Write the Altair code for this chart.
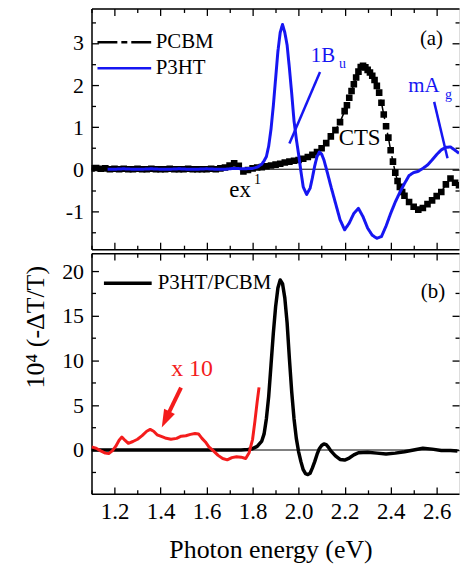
import altair as alt
import pandas as pd

FONT = "Liberation Serif"
BLUE = "#1616f2"
RED = "#f41c1c"

# ---------------- panel (a): pristine PCBM and P3HT films ----------------
pcbm_energy = [1.10, 1.12, 1.14, 1.16, 1.18, 1.20, 1.22, 1.24, 1.26, 1.28,
               1.30, 1.32, 1.34, 1.36, 1.38, 1.40, 1.42, 1.44, 1.46, 1.48,
               1.50, 1.52, 1.54, 1.56, 1.58, 1.60, 1.62, 1.64, 1.66, 1.68,
               1.70, 1.72, 1.74, 1.76, 1.78, 1.80, 1.82, 1.84, 1.86, 1.88,
               1.90, 1.92, 1.94, 1.96, 1.98, 2.00, 2.02, 2.04, 2.06, 2.08,
               2.10, 2.12, 2.14, 2.16, 2.18, 2.20, 2.21, 2.22, 2.23, 2.24,
               2.25, 2.26, 2.27, 2.28, 2.29, 2.30, 2.31, 2.32, 2.33, 2.34,
               2.35, 2.36, 2.37, 2.38, 2.39, 2.40, 2.41, 2.42, 2.43, 2.44,
               2.45, 2.46, 2.48, 2.50, 2.52, 2.54, 2.56, 2.58, 2.60, 2.62,
               2.64, 2.66, 2.68, 2.697]
pcbm_signal = [0.02, 0.03, 0.01, 0.02, 0.00, 0.01, 0.00, 0.01, 0.00, 0.00,
               0.01, 0.00, 0.00, 0.01, 0.00, 0.00, 0.00, 0.01, 0.00, 0.00,
               0.00, 0.01, 0.00, 0.00, 0.00, 0.00, 0.01, 0.00, 0.02, 0.04,
               0.09, 0.14, 0.08, -0.05, -0.02, 0.02, 0.04, 0.05, 0.07, 0.09,
               0.11, 0.13, 0.16, 0.18, 0.20, 0.22, 0.25, 0.29, 0.34, 0.41,
               0.50, 0.62, 0.78, 0.93, 1.12, 1.38, 1.52, 1.70, 1.86, 2.02,
               2.18, 2.32, 2.43, 2.46, 2.42, 2.36, 2.30, 2.22, 2.12, 1.98,
               1.82, 1.58, 1.30, 1.02, 0.75, 0.45, 0.18, -0.08, -0.28, -0.42,
               -0.54, -0.63, -0.78, -0.89, -0.96, -0.92, -0.83, -0.74, -0.64, -0.54,
               -0.36, -0.22, -0.32, -0.38]

p3ht_energy = [1.17, 1.20, 1.24, 1.28, 1.32, 1.36, 1.40, 1.44, 1.48, 1.52,
               1.56, 1.60, 1.64, 1.68, 1.72, 1.76, 1.80, 1.82, 1.84, 1.85,
               1.86, 1.87, 1.88, 1.89, 1.90, 1.91, 1.92, 1.93, 1.94, 1.95,
               1.96, 1.97, 1.98, 1.99, 2.00, 2.01, 2.02, 2.035, 2.05, 2.06,
               2.07, 2.08, 2.09, 2.10, 2.11, 2.12, 2.14, 2.16, 2.18, 2.20,
               2.22, 2.24, 2.26, 2.28, 2.30, 2.32, 2.34, 2.36, 2.38, 2.40,
               2.42, 2.44, 2.46, 2.48, 2.50, 2.52, 2.54, 2.56, 2.58, 2.60,
               2.62, 2.64, 2.66, 2.68, 2.697]
p3ht_signal = [0.00, 0.00, 0.01, 0.00, 0.00, 0.01, 0.00, 0.00, 0.01, 0.00,
               0.00, 0.01, 0.00, 0.00, 0.02, 0.01, 0.02, 0.05, 0.12, 0.20,
               0.30, 0.55, 0.95, 1.50, 2.15, 2.80, 3.25, 3.44, 3.25, 2.95,
               2.40, 1.80, 1.15, 0.72, 0.35, -0.05, -0.42, -0.60, -0.45, -0.20,
               0.08, 0.30, 0.41, 0.36, 0.22, 0.02, -0.40, -0.80, -1.20, -1.44,
               -1.28, -1.05, -0.93, -1.13, -1.40, -1.57, -1.64, -1.60, -1.35, -1.05,
               -0.78, -0.55, -0.34, -0.15, -0.08, -0.05, 0.02, 0.10, 0.22, 0.35,
               0.46, 0.52, 0.53, 0.45, 0.38]

# ---------------- panel (b): P3HT/PCBM blend ----------------
blend_energy = [1.10, 1.15, 1.20, 1.25, 1.30, 1.35, 1.40, 1.45, 1.50, 1.55,
                1.60, 1.65, 1.70, 1.75, 1.78, 1.80, 1.82, 1.84, 1.85, 1.86,
                1.87, 1.88, 1.89, 1.90, 1.91, 1.92, 1.93, 1.94, 1.95, 1.96,
                1.97, 1.98, 1.99, 2.00, 2.01, 2.02, 2.03, 2.04, 2.05, 2.06,
                2.07, 2.08, 2.09, 2.10, 2.11, 2.12, 2.13, 2.14, 2.16, 2.18,
                2.20, 2.22, 2.24, 2.26, 2.30, 2.34, 2.38, 2.42, 2.46, 2.50,
                2.54, 2.58, 2.62, 2.66, 2.69]
blend_signal = [0.0, 0.0, 0.0, 0.0, 0.0, 0.0, 0.0, 0.0, 0.0, 0.0,
                0.0, 0.0, 0.0, 0.0, 0.05, 0.15, 0.4, 1.0, 1.8, 3.5,
                6.0, 9.5, 13.0, 16.0, 18.1, 19.0, 18.6, 17.0, 14.2, 10.2,
                6.5, 3.5, 1.3, -0.2, -1.3, -2.2, -2.65, -2.75, -2.6, -2.0,
                -1.3, -0.5, 0.15, 0.5, 0.68, 0.6, 0.3, -0.1, -0.65, -1.05,
                -1.12, -0.9, -0.55, -0.3, -0.25, -0.35, -0.45, -0.35, -0.2, 0.0,
                0.2, 0.1, -0.05, -0.05, -0.1]

# low-energy part of the blend spectrum, magnified ten times
tail_energy = [1.10, 1.12, 1.14, 1.16, 1.175, 1.19, 1.205, 1.22, 1.232, 1.245,
               1.26, 1.28, 1.30, 1.32, 1.34, 1.355, 1.37, 1.385, 1.40, 1.42,
               1.445, 1.47, 1.49, 1.51, 1.53, 1.55, 1.565, 1.58, 1.595, 1.61,
               1.63, 1.65, 1.67, 1.69, 1.71, 1.73, 1.75, 1.77, 1.785, 1.80,
               1.81, 1.82, 1.828]
tail_signal = [0.35, 0.2, -0.1, -0.35, -0.4, -0.1, 0.4, 1.1, 1.45, 1.1,
               0.75, 0.95, 1.2, 1.6, 2.1, 2.3, 2.1, 1.7, 1.55, 1.35,
               1.2, 1.3, 1.55, 1.6, 1.75, 1.85, 1.8, 1.3, 0.9, 0.35,
               -0.1, -0.6, -0.95, -1.1, -0.85, -0.75, -0.8, -0.95, -0.3, 1.2,
               3.2, 5.4, 7.0]

# ---------------- ticks ----------------
x_ticks = [1.1, 1.2, 1.3, 1.4, 1.5, 1.6, 1.7, 1.8, 1.9, 2.0, 2.1, 2.2, 2.3, 2.4, 2.5, 2.6]
x_labels = [1.2, 1.4, 1.6, 1.8, 2.0, 2.2, 2.4, 2.6]
a_ticks = [-1.5, -1.0, -0.5, 0.0, 0.5, 1.0, 1.5, 2.0, 2.5, 3.0, 3.5]
a_labels = [-1, 0, 1, 2, 3]
b_ticks = [-2.5, 0.0, 2.5, 5.0, 7.5, 10.0, 12.5, 15.0, 17.5, 20.0]
b_labels = [0, 5, 10, 15, 20]

W = 369.5
H = 242

xscale = alt.Scale(domain=[1.1, 2.697], nice=False, zero=False)
ascale = alt.Scale(domain=[-1.9, 3.82], nice=False, zero=False)
bscale = alt.Scale(domain=[-4.9, 22.0], nice=False, zero=False)

X_MAJOR = "round(datum.value * 10) % 2 == 0"
A_MAJOR = "abs(datum.value - round(datum.value)) < 0.01"
B_MAJOR = "abs(datum.value / 5 - round(datum.value / 5)) < 0.01"

anchor = pd.DataFrame({"E": [1.5], "v": [0.0]})


def tick_axis(orient, offset, values, major, domain=True):
    return alt.Axis(orient=orient, offset=offset, values=values, labels=False,
                    title=None, grid=False, domain=domain, domainColor="black",
                    domainWidth=1.5, ticks=True, tickColor="black", tickWidth=1.3,
                    tickSize={"condition": {"test": major, "value": 7}, "value": 4})


def frame(yscale, y_ticks, y_major, y_labels, with_x_labels, y_title=None):
    # inward ticks on all four edges, drawn by mirrored axes
    lower_left = alt.Chart(anchor).mark_point(opacity=0).encode(
        x=alt.X("E:Q", scale=xscale, axis=tick_axis("top", -H, x_ticks, X_MAJOR)),
        y=alt.Y("v:Q", scale=yscale, axis=tick_axis("right", -W, y_ticks, y_major)),
    )
    upper_right = alt.Chart(anchor).mark_point(opacity=0).encode(
        x=alt.X("E:Q", scale=xscale, axis=tick_axis("bottom", -H, x_ticks, X_MAJOR)),
        y=alt.Y("v:Q", scale=yscale,
                axis=tick_axis("left", -W, y_ticks, y_major, domain=False)),
    )
    y_axis_kw = dict(orient="left", values=y_labels, labels=True, ticks=False,
                     tickSize=0, domain=False, grid=False, labelFont=FONT,
                     labelFontSize=22, labelColor="black", labelPadding=8,
                     labelExpr="toString(datum.value)", title=None)
    if y_title:
        y_axis_kw.update(title=y_title, titleFont=FONT, titleFontSize=26,
                         titleFontWeight="normal", titleColor="black",
                         titleAngle=270, titleX=-56.5, titleY=74,
                         titleAlign="center", titleBaseline="middle")
    if with_x_labels:
        x_axis = alt.Axis(orient="bottom", values=x_labels, labels=True, ticks=False,
                          tickSize=0, domain=False, grid=False, labelFont=FONT,
                          labelFontSize=23, labelColor="black", labelPadding=7,
                          labelExpr="format(datum.value, '.1f')",
                          title="Photon energy (eV)", titleFont=FONT,
                          titleFontSize=26, titleFontWeight="normal",
                          titleColor="black", titleX=180, titleY=64,
                          titleAlign="center", titleBaseline="alphabetic")
    else:
        x_axis = None
    labels = alt.Chart(anchor).mark_point(opacity=0).encode(
        x=alt.X("E:Q", scale=xscale, axis=x_axis),
        y=alt.Y("v:Q", scale=yscale, axis=alt.Axis(**y_axis_kw)),
    )
    zero = alt.Chart(anchor).mark_rule(color="black", strokeWidth=1).encode(
        y=alt.Y("v:Q", scale=yscale, axis=None)
    )
    return [zero, lower_left, upper_right, labels]


def text_layer(df, yscale):
    return alt.Chart(df).mark_text(align="left", baseline="alphabetic", font=FONT).encode(
        x=alt.X("E:Q", scale=xscale, axis=None),
        y=alt.Y("v:Q", scale=yscale, axis=None),
        text="label:N",
        color=alt.Color("color:N", scale=None),
        size=alt.Size("size:Q", scale=None),
    )


def pointer_layer(df, yscale):
    return alt.Chart(df).mark_rule(strokeCap="butt").encode(
        x=alt.X("E:Q", scale=xscale, axis=None),
        y=alt.Y("v:Q", scale=yscale, axis=None),
        x2="E2:Q",
        y2="v2:Q",
        color=alt.Color("color:N", scale=None),
        strokeWidth=alt.StrokeWidth("w:Q", scale=None),
    )


# ---------- panel (a) ----------
films = ["PCBM", "P3HT"]
df_a = pd.concat([
    pd.DataFrame({"E": pcbm_energy, "v": pcbm_signal, "film": "PCBM"}),
    pd.DataFrame({"E": p3ht_energy, "v": p3ht_signal, "film": "P3HT"}),
], ignore_index=True)

legend_a = alt.Legend(orient="none", legendX=4.5, legendY=21, title=None,
                      symbolType="stroke", symbolSize=2916, symbolStrokeWidth=2.5,
                      clipHeight=26, labelFont=FONT, labelFontSize=21,
                      labelColor="black", labelOffset=3, rowPadding=0, padding=0)

squares_a = alt.Chart(df_a).transform_filter(alt.datum.film == "PCBM").mark_square(
    size=44, color="black", opacity=1, clip=True
).encode(
    x=alt.X("E:Q", scale=xscale, axis=None),
    y=alt.Y("v:Q", scale=ascale, axis=None),
)

lines_a = alt.Chart(df_a).mark_line(clip=True, strokeJoin="round").encode(
    x=alt.X("E:Q", scale=xscale, axis=None),
    y=alt.Y("v:Q", scale=ascale, axis=None),
    color=alt.Color("film:N", scale=alt.Scale(domain=films, range=["black", BLUE]),
                    legend=legend_a),
    strokeDash=alt.StrokeDash("film:N",
                              scale=alt.Scale(domain=films, range=[[20, 4, 6, 4], [1, 0]]),
                              legend=legend_a),
    strokeWidth=alt.condition(alt.datum.film == "P3HT", alt.value(3), alt.value(1.5)),
)

notes_a = pd.DataFrame({
    "E": [2.527, 2.053, 2.176, 2.174, 2.476, 2.636, 1.699, 1.806],
    "v": [2.96, 2.54, 2.40, 0.58, 1.83, 1.68, -0.65, -0.36],
    "label": ["(a)", "1B", "u", "CTS", "mA", "g", "ex", "1"],
    "color": ["black", BLUE, BLUE, "black", BLUE, BLUE, "black", "black"],
    "size": [21, 21, 14, 23, 21, 14, 23, 14],
})
pointers_a = pd.DataFrame({
    "E": [2.093, 2.589], "v": [2.31, 1.60],
    "E2": [1.960, 2.647], "v2": [0.61, 0.26],
    "color": [BLUE, BLUE], "w": [2.5, 2.5],
})

panel_a = alt.layer(
    *frame(ascale, a_ticks, A_MAJOR, a_labels, False),
    squares_a,
    lines_a,
    pointer_layer(pointers_a, ascale),
    text_layer(notes_a, ascale),
).resolve_axis(x="independent", y="independent").properties(width=W, height=H)

# ---------- panel (b) ----------
traces = ["P3HT/PCBM", "x 10"]
df_b = pd.concat([
    pd.DataFrame({"E": blend_energy, "v": blend_signal, "trace": "P3HT/PCBM"}),
    pd.DataFrame({"E": tail_energy, "v": tail_signal, "trace": "x 10"}),
], ignore_index=True)

legend_b = alt.Legend(orient="none", legendX=10.5, legendY=17.3, title=None,
                      values=["P3HT/PCBM"], symbolType="stroke", symbolSize=2304,
                      symbolStrokeWidth=3.5, clipHeight=26, labelFont=FONT,
                      labelFontSize=21, labelColor="black", labelOffset=4, padding=0)

lines_b = alt.Chart(df_b).mark_line(clip=True, strokeJoin="round").encode(
    x=alt.X("E:Q", scale=xscale, axis=None),
    y=alt.Y("v:Q", scale=bscale, axis=None),
    color=alt.Color("trace:N", scale=alt.Scale(domain=traces, range=["black", RED]),
                    legend=legend_b),
    strokeWidth=alt.condition(alt.datum.trace == "P3HT/PCBM", alt.value(3.5), alt.value(3)),
)

notes_b = pd.DataFrame({
    "E": [2.531, 1.446],
    "v": [17.0, 8.26],
    "label": ["(b)", "x 10"],
    "color": ["black", RED],
    "size": [21, 24],
})
pointers_b = pd.DataFrame({
    "E": [1.489], "v": [6.97], "E2": [1.422], "v2": [3.42],
    "color": [RED], "w": [4],
})
arrow_head = pd.DataFrame({"E": [1.422], "v": [3.42]})
head_b = alt.Chart(arrow_head).mark_point(
    shape="M0,1L-0.67,-1L0.67,-1Z", filled=True, size=324, angle=25.6,
    color=RED, opacity=1
).encode(
    x=alt.X("E:Q", scale=xscale, axis=None),
    y=alt.Y("v:Q", scale=bscale, axis=None),
)

panel_b = alt.layer(
    *frame(bscale, b_ticks, B_MAJOR, b_labels, True, y_title="10⁴ (-ΔT/T)"),
    lines_b,
    pointer_layer(pointers_b, bscale),
    head_b,
    text_layer(notes_b, bscale),
).resolve_axis(x="independent", y="independent").properties(width=W, height=H)

chart = (
    alt.vconcat(panel_a, panel_b, spacing=0)
    .resolve_scale(color="independent", strokeDash="independent")
    .properties(padding={"left": 22, "top": 5, "right": 0, "bottom": 0},
                background="white")
    .configure_view(stroke=None)
    .configure(font=FONT)
)

chart.save("out.html", embed_options={"renderer": "svg", "actions": False})
